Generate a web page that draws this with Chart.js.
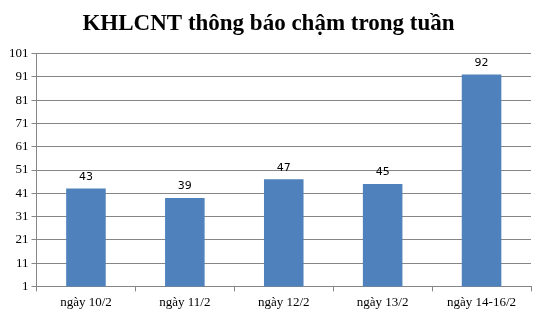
<!DOCTYPE html>
<html>
<head>
    <title>KHLCNT thông báo chậm trong tuần</title>
    <script src="https://cdn.jsdelivr.net/npm/chart.js"></script>
    <style>
        html, body {
            margin: 0;
            padding: 0;
            background: #ffffff;
        }

        .chart-container {
            width: 543px;
            height: 313px;
        }
    </style>
</head>
<body>
    <div class="chart-container">
        <canvas id="weekChart"></canvas>
    </div>

    <script>
        // Dữ liệu
        const categories = ['ngày 10/2', 'ngày 11/2', 'ngày 12/2', 'ngày 13/2', 'ngày 14-16/2'];
        const lateCounts = [43, 39, 47, 45, 92];
        const yTicks = [1, 11, 21, 31, 41, 51, 61, 71, 81, 91, 101];

        // Nhãn giá trị trên cột
        const valueLabels = {
            id: 'valueLabels',
            afterDatasetsDraw(chart) {
                const ctx = chart.ctx;
                const meta = chart.getDatasetMeta(0);
                ctx.save();
                ctx.font = '11px "DejaVu Sans", Verdana, sans-serif';
                ctx.fillStyle = '#000000';
                ctx.textAlign = 'center';
                ctx.textBaseline = 'bottom';
                meta.data.forEach((bar, i) => {
                    ctx.fillText(lateCounts[i], bar.x, bar.y - 6);
                });
                ctx.restore();
            }
        };

        const serif = '"Liberation Serif", "Times New Roman", serif';

        const chart = new Chart(document.getElementById('weekChart'), {
            type: 'bar',
            data: {
                labels: categories,
                datasets: [{
                    data: lateCounts,
                    backgroundColor: '#4F81BD',
                    categoryPercentage: 1.0,
                    barPercentage: 0.4
                }]
            },
            options: {
                responsive: true,
                maintainAspectRatio: false,
                animation: false,
                layout: {
                    padding: { left: 6, right: 12, top: 0, bottom: 0 }
                },
                plugins: {
                    legend: { display: false },
                    tooltip: { enabled: false },
                    title: {
                        display: true,
                        text: 'KHLCNT thông báo chậm trong tuần',
                        color: '#000000',
                        font: { family: serif, size: 23, weight: 'bold' },
                        padding: { top: 10, bottom: 16 }
                    }
                },
                scales: {
                    x: {
                        grid: {
                            offset: true,
                            drawOnChartArea: false,
                            drawTicks: true,
                            tickLength: 5,
                            color: '#868686'
                        },
                        border: { color: '#868686' },
                        ticks: {
                            color: '#000000',
                            padding: 3,
                            font: { family: serif, size: 13 }
                        }
                    },
                    y: {
                        min: 1,
                        max: 101,
                        afterBuildTicks(axis) {
                            axis.ticks = yTicks.map(v => ({ value: v }));
                        },
                        grid: {
                            color: '#868686',
                            tickLength: 5
                        },
                        border: { color: '#868686' },
                        ticks: {
                            color: '#000000',
                            padding: 3,
                            font: { family: serif, size: 13 }
                        }
                    }
                }
            },
            plugins: [valueLabels]
        });
    </script>
</body>
</html>
